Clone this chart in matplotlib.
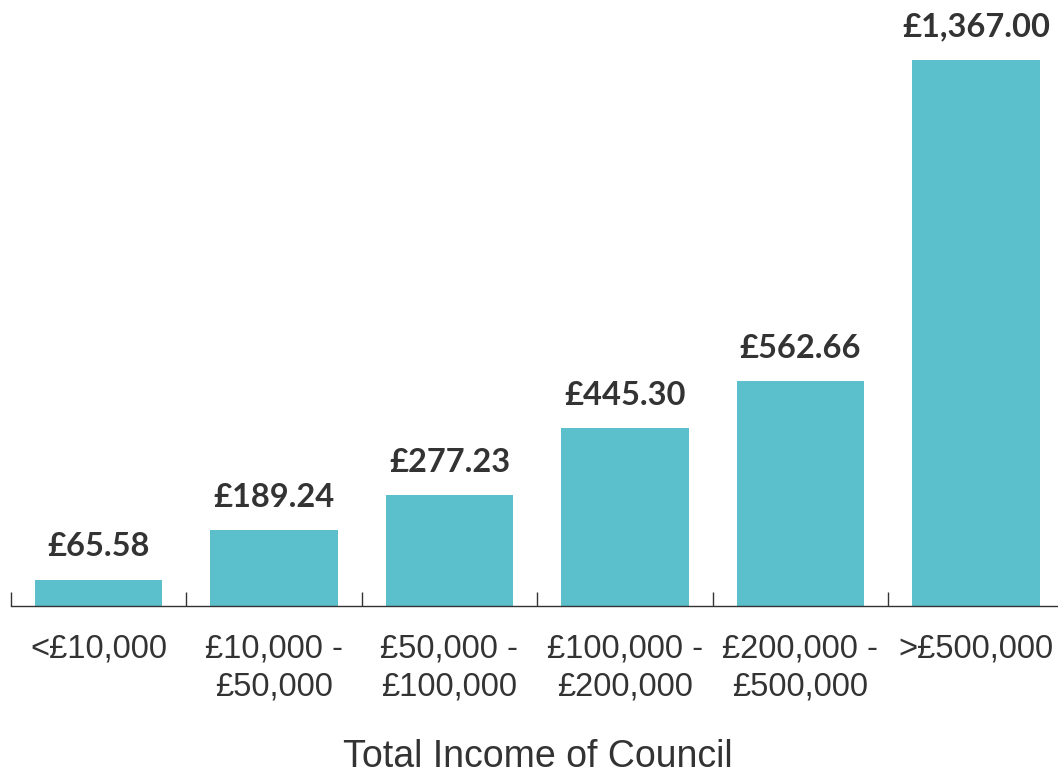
import matplotlib
matplotlib.use("Agg")
import matplotlib.pyplot as plt
import numpy as np

# dados
categorias = ["<£10,000", "£10,000 -\n£50,000", "£50,000 -\n£100,000",
              "£100,000 -\n£200,000", "£200,000 -\n£500,000", ">£500,000"]
valores = [65.58, 189.24, 277.23, 445.30, 562.66, 1367.00]
rotulos = ["£65.58", "£189.24", "£277.23", "£445.30", "£562.66", "£1,367.00"]

cor_barra = "#5bc0cb"
cor_texto = "#333333"

fig = plt.figure(figsize=(10.58, 7.73), dpi=100)
ax = fig.add_axes([10.75 / 1058, 167 / 773, 1053 / 1058, 606 / 773])

x = np.arange(len(categorias))
ax.bar(x, valores, width=0.724, color=cor_barra)

for xi, v, r in zip(x, valores, rotulos):
    ax.annotate(r, (xi, v), xytext=(0, 17), textcoords="offset points",
                ha="center", va="baseline", fontsize=23.5, fontweight="bold",
                family="Lato", color=cor_texto, annotation_clip=False)

ax.set_xlim(-0.5, len(categorias) - 0.5)
ax.set_ylim(0, 606 / (546 / 1367))  # 1367 fica no topo em y=60px

for s in ["top", "right", "left"]:
    ax.spines[s].set_visible(False)
ax.spines["bottom"].set_color(cor_texto)
ax.spines["bottom"].set_linewidth(1.0)
ax.set_yticks([])

ax.set_xticks(x)
ax.set_xticklabels(categorias, fontsize=23.5, family="Liberation Sans",
                   color=cor_texto, linespacing=1.3)
ax.tick_params(axis="x", which="major", length=0, pad=20)
ax.set_xticks(np.arange(-0.5, len(categorias) - 0.5, 1), minor=True)
ax.tick_params(axis="x", which="minor", direction="in", length=10,
               width=1.0, color=cor_texto)

fig.text(537.5 / 1058, 6 / 773, "Total Income of Council", ha="center",
         va="baseline", fontsize=27, family="Liberation Sans", color=cor_texto)

fig.savefig("out.png", dpi=100)
